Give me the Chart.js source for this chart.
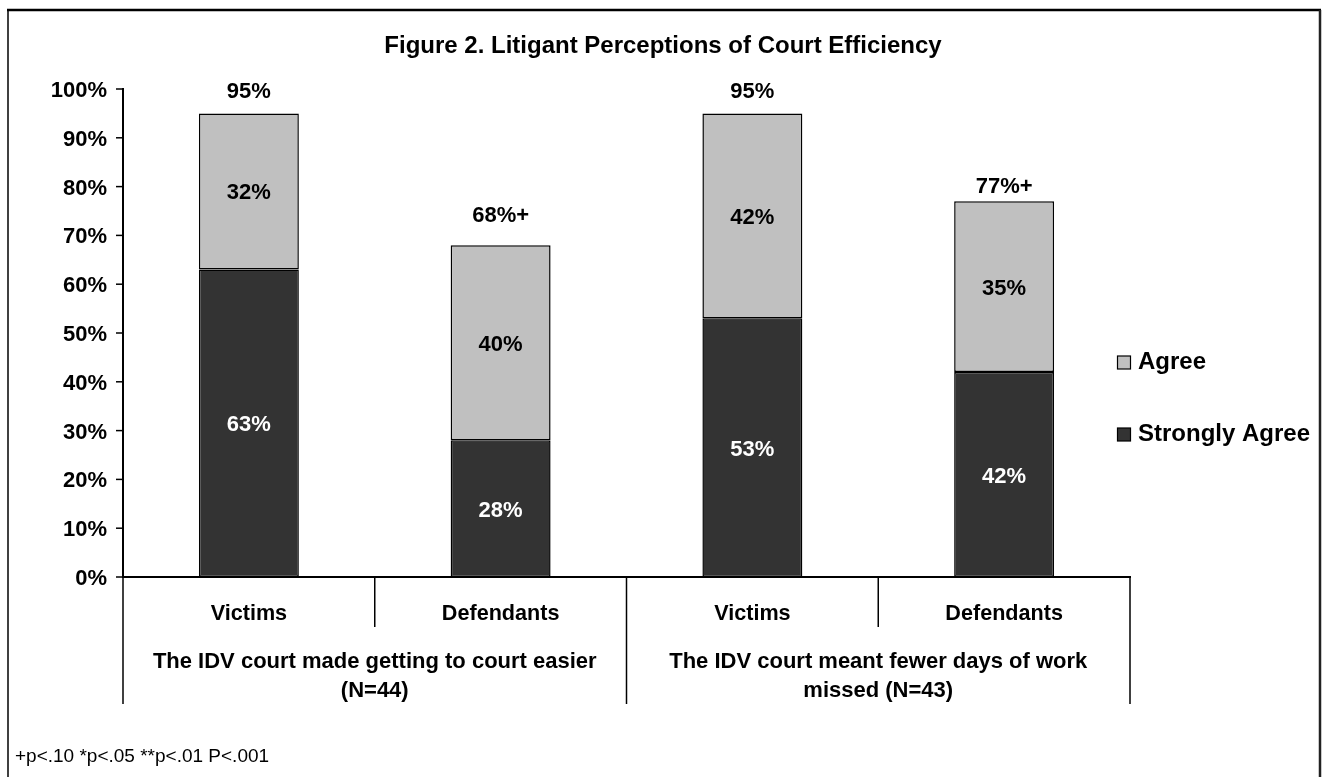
<!DOCTYPE html>
<html>
<head>
<meta charset="utf-8">
<script src="https://cdn.jsdelivr.net/npm/chart.js@4"></script>
<style>
  body { margin: 0; background: #fff; }
</style>
</head>
<body>
<canvas id="chart" width="1328" height="777"></canvas>
<script>
const categories = ["Victims", "Defendants", "Victims", "Defendants"];
const groups = ["The IDV court made getting to court easier|(N=44)", "The IDV court meant fewer days of work|missed (N=43)"];
const stronglyAgree = [63, 28, 53, 42];
const agree = [32, 40, 42, 35];
const totalLabels = ["95%", "68%+", "95%", "77%+"];
const yTicks = [0, 10, 20, 30, 40, 50, 60, 70, 80, 90, 100];

const FONT = '"Liberation Sans", Arial, sans-serif';

function txt(ctx, s, x, y, size, bold, align) {
  ctx.save();
  ctx.font = (bold ? "bold " : "") + size + "px " + FONT;
  ctx.textAlign = align || "center";
  ctx.textBaseline = "alphabetic";
  ctx.fillText(s, x, y);
  ctx.restore();
}

function line(ctx, x1, y1, x2, y2, w, c) {
  ctx.save();
  ctx.strokeStyle = c || "#000";
  ctx.lineWidth = w;
  ctx.beginPath();
  ctx.moveTo(x1, y1);
  ctx.lineTo(x2, y2);
  ctx.stroke();
  ctx.restore();
}

const decor = {
  id: "decor",
  afterDraw(chart, args, opts) {
    const ctx = chart.ctx;
    const area = chart.chartArea;
    const x = chart.scales.x;
    const y = chart.scales.y;
    ctx.fillStyle = "#000";

    // frame
    line(ctx, 7, 10, 1321, 10, 2.5);
    line(ctx, 8, 10, 8, 777, 1.5);
    line(ctx, 1320, 10, 1320, 777, 2.5, "#222");

    txt(ctx, "Figure 2. Litigant Perceptions of Court Efficiency", 663, 53, 24, true);

    // y axis ticks
    yTicks.forEach((v) => {
      const py = y.getPixelForValue(v);
      line(ctx, area.left - 7, py, area.left, py, 1.5);
      txt(ctx, v + "%", 107, py + 8, 22, true, "right");
    });

    // category labels and separators
    const centers = categories.map((c, i) => x.getPixelForValue(i));
    const bounds = [area.left];
    for (let i = 0; i < centers.length - 1; i++) bounds.push((centers[i] + centers[i + 1]) / 2);
    bounds.push(area.right);
    bounds.forEach((bx, i) => {
      const bottom = i % 2 === 0 ? 704 : 627;
      line(ctx, bx, area.bottom, bx, bottom, 1.5);
    });
    categories.forEach((c, i) => txt(ctx, c, centers[i], 620, 21.6, true));
    groups.forEach((g, gi) => {
      const cx = (bounds[gi * 2] + bounds[gi * 2 + 2]) / 2;
      const parts = g.split("|");
      txt(ctx, parts[0], cx, 668, 22, true);
      txt(ctx, parts[1], cx, 697, 22, true);
    });

    // segment labels
    chart.data.datasets.forEach((ds, di) => {
      chart.getDatasetMeta(di).data.forEach((bar, i) => {
        ctx.fillStyle = di === 0 ? "#fff" : "#000";
        txt(ctx, ds.data[i] + "%", bar.x, (bar.y + bar.base) / 2 + 8, 22, true);
      });
    });

    // totals above bars
    ctx.fillStyle = "#000";
    const top = chart.getDatasetMeta(1).data;
    totalLabels.forEach((t, i) => {
      txt(ctx, t, top[i].x, top[i].y - opts.totalOffsets[i], 22, true);
    });

    // legend
    const legendItems = [
      { ds: chart.data.datasets[1], base: 369 },
      { ds: chart.data.datasets[0], base: 441 },
    ];
    legendItems.forEach((it) => {
      ctx.fillStyle = it.ds.backgroundColor;
      ctx.fillRect(1117.5, it.base - 13, 13, 13);
      ctx.strokeStyle = "#000";
      ctx.lineWidth = 1.2;
      ctx.strokeRect(1117.5, it.base - 13, 13, 13);
      ctx.fillStyle = "#000";
      txt(ctx, it.ds.label, 1138, it.base, 24, true, "left");
    });

    txt(ctx, "+p<.10 *p<.05 **p<.01 P<.001", 15, 762, 19, false, "left");
  },
};

new Chart(document.getElementById("chart"), {
  type: "bar",
  data: {
    labels: categories,
    datasets: [
      {
        label: "Strongly Agree",
        data: stronglyAgree,
        backgroundColor: "#333333",
        borderColor: "#000",
        borderWidth: 1.5,
        borderSkipped: false,
      },
      {
        label: "Agree",
        data: agree,
        backgroundColor: "#C0C0C0",
        borderColor: "#000",
        borderWidth: 1.5,
        borderSkipped: false,
      },
    ],
  },
  options: {
    responsive: false,
    animation: false,
    devicePixelRatio: 1,
    barPercentage: 0.397,
    categoryPercentage: 1,
    layout: { padding: { left: 123, top: 89, right: 198, bottom: 200 } },
    plugins: {
      legend: { display: false },
      tooltip: { enabled: false },
      decor: { totalOffsets: [15, 23, 15, 8] },
    },
    scales: {
      x: {
        stacked: true,
        grid: { display: false },
        ticks: { display: false },
        border: { color: "#000", width: 2 },
        afterFit: (s) => { s.height = 0; },
      },
      y: {
        stacked: true,
        min: 0,
        max: 100,
        grid: { display: false },
        ticks: { display: false, stepSize: 10 },
        border: { color: "#000", width: 2 },
        afterFit: (s) => { s.width = 0; },
      },
    },
  },
  plugins: [decor],
});
</script>
</body>
</html>
